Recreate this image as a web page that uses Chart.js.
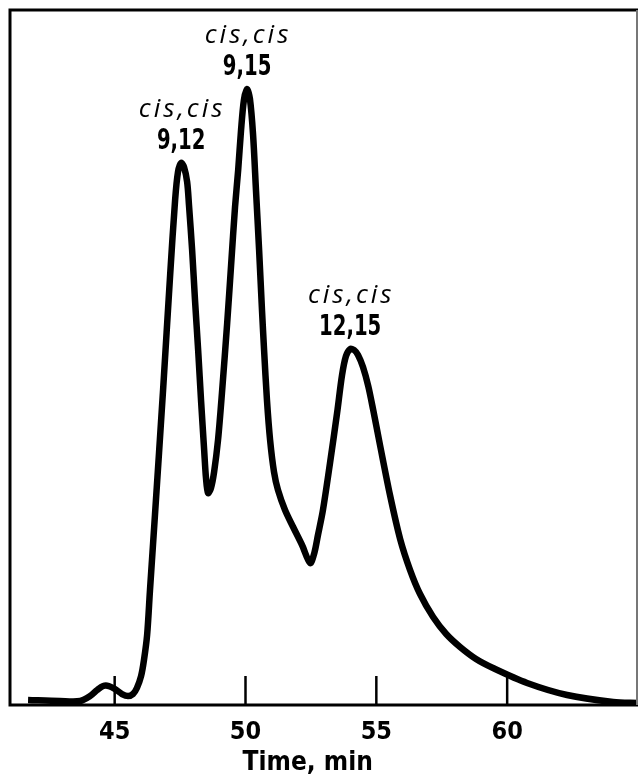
<!DOCTYPE html>
<html>
<head>
<meta charset="utf-8">
<script src="https://cdn.jsdelivr.net/npm/chart.js@4.4.1/dist/chart.umd.min.js"></script>
<style>
  html, body { margin: 0; padding: 0; background: #fff; }
  #wrap { width: 639px; height: 779px; }
</style>
</head>
<body>
<div id="wrap"><canvas id="gcChart" width="639" height="779"></canvas></div>
<script>
// retention time (min) and detector response
const timeMin = [
  41.69, 42.91, 43.68, 44.06, 44.33, 44.56, 44.78, 45.01, 45.28, 45.51,
  45.70, 45.85, 46.01, 46.12, 46.24, 46.35, 46.54, 46.85, 47.12, 47.31,
  47.42, 47.54, 47.65, 47.77, 47.84, 47.96, 48.07, 48.19, 48.30, 48.42,
  48.49, 48.57, 48.68, 48.80, 48.95, 49.10, 49.30, 49.45, 49.60, 49.72,
  49.83, 49.94, 50.06, 50.17, 50.29, 50.40, 50.52, 50.63, 50.71, 50.82,
  50.94, 51.09, 51.24, 51.51, 51.82, 52.16, 52.47, 52.63, 52.77, 52.96,
  53.23, 53.50, 53.69, 53.84, 54.00, 54.15, 54.30, 54.49, 54.69, 54.88,
  55.14, 55.53, 55.91, 56.29, 56.67, 57.17, 57.67, 58.20, 58.81, 59.46,
  60.76, 62.29, 64.05, 65.00
];
const response = [
  0.72, 0.58, 0.58, 1.29, 2.16, 2.73, 2.73, 2.30, 1.58, 1.29,
  1.58, 2.45, 4.17, 6.47, 10.07, 16.55, 27.34, 45.32, 61.87, 72.66,
  76.69, 77.99, 77.41, 75.25, 71.94, 65.47, 58.27, 51.08, 43.88, 36.69,
  32.66, 30.50, 31.22, 33.53, 38.13, 44.89, 54.96, 63.31, 71.65, 76.98,
  82.73, 87.05, 88.63, 87.19, 82.01, 74.10, 65.47, 56.83, 51.08, 43.88,
  38.13, 33.53, 30.94, 28.06, 25.61, 23.02, 20.43, 21.87, 24.46, 28.06,
  34.82, 42.01, 47.48, 50.22, 51.22, 51.08, 50.36, 48.63, 45.90, 42.45,
  37.41, 30.07, 23.88, 19.42, 15.97, 12.66, 10.22, 8.35, 6.62, 5.32,
  3.17, 1.44, 0.43, 0.29
];
const tickValues = [45, 50, 55, 60];
const peakNames = ['9,12', '9,15', '12,15'];
const peakTimes = [47.54, 50.06, 54.00];

const NUM_FONT = '"Liberation Sans Narrow", "DejaVu Sans Condensed", sans-serif';

const peakLabels = {
  id: 'peakLabels',
  afterDatasetsDraw(chart) {
    const ctx = chart.ctx;
    const xs = chart.scales.x, ys = chart.scales.y;
    ctx.save();
    ctx.fillStyle = '#000';
    ctx.textAlign = 'center';
    ctx.textBaseline = 'alphabetic';
    peakNames.forEach((name, i) => {
      let k = 0;
      timeMin.forEach((t, j) => { if (Math.abs(t - peakTimes[i]) < Math.abs(timeMin[k] - peakTimes[i])) k = j; });
      const px = xs.getPixelForValue(timeMin[k]);
      const py = ys.getPixelForValue(response[k]);
      ctx.font = 'italic 26px "Open Sans", "DejaVu Sans", sans-serif';
      ctx.letterSpacing = '3px';
      ctx.fillText('cis,cis', px + 1, py - 46);
      // condensed bold numbers
      ctx.save();
      ctx.translate(px, py - 14);
      ctx.scale(0.78, 1);
      ctx.font = 'bold 28px ' + NUM_FONT;
      ctx.letterSpacing = '0px';
      ctx.fillText(name, 0, 0);
      ctx.restore();
    });
    ctx.restore();
  }
};

const frame = {
  id: 'frame',
  afterDraw(chart) {
    const { left, right, top, bottom } = chart.chartArea;
    const ctx = chart.ctx;
    ctx.save();
    ctx.strokeStyle = '#000';
    ctx.lineWidth = 3;
    ctx.beginPath();
    ctx.moveTo(right, top);
    ctx.lineTo(left, top);
    ctx.lineTo(left, bottom);
    ctx.lineTo(right, bottom);
    ctx.stroke();
    ctx.strokeStyle = '#777';
    ctx.lineWidth = 2;
    ctx.beginPath();
    ctx.moveTo(right - 1, top);
    ctx.lineTo(right - 1, bottom);
    ctx.stroke();
    // inward tick marks
    ctx.strokeStyle = '#000';
    ctx.lineWidth = 2.5;
    tickValues.forEach(v => {
      const x = chart.scales.x.getPixelForValue(v);
      ctx.beginPath();
      ctx.moveTo(x, bottom);
      ctx.lineTo(x, bottom - 29);
      ctx.stroke();
    });
    ctx.restore();
  }
};

new Chart(document.getElementById('gcChart'), {
  type: 'line',
  data: {
    datasets: [{
      data: timeMin.map((t, i) => ({ x: t, y: response[i] })),
      borderColor: '#000',
      borderWidth: 6.5,
      pointRadius: 0,
      tension: 0.3,
      fill: false
    }]
  },
  options: {
    responsive: false,
    animation: false,
    layout: { padding: { left: 10, right: 1, top: 10, bottom: 0 } },
    plugins: { legend: { display: false }, tooltip: { enabled: false } },
    scales: {
      x: {
        type: 'linear',
        min: 41,
        max: 65,
        afterBuildTicks: s => { s.ticks = tickValues.map(v => ({ value: v })); },
        afterFit: s => { s.height = 74; },
        grid: { display: false, drawTicks: false },
        border: { display: false },
        ticks: {
          color: '#000',
          padding: 12,
          maxRotation: 0,
          font: { family: NUM_FONT, weight: 'bold', size: 25 }
        },
        title: {
          display: true,
          text: 'Time, min    ',
          color: '#000',
          padding: { top: 0, bottom: 0 },
          font: { family: NUM_FONT, weight: 'bold', size: 26 }
        }
      },
      y: {
        display: false,
        min: 0,
        max: 100
      }
    }
  },
  plugins: [peakLabels, frame]
});
</script>
</body>
</html>
